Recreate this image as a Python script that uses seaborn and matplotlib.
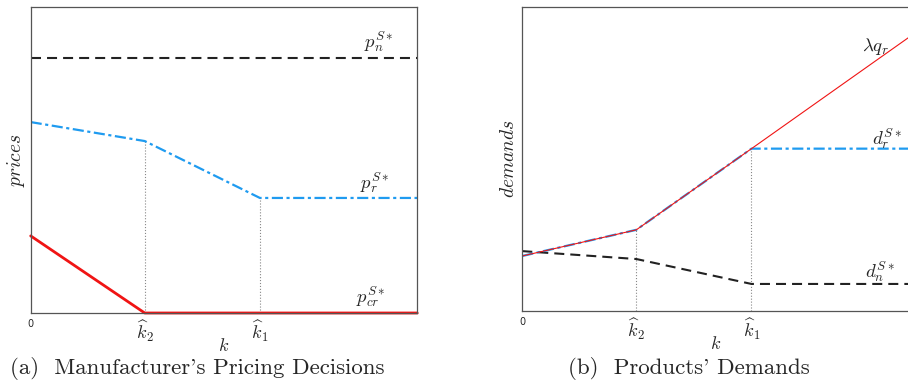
"""Two-panel sketch: manufacturer's prices and product demands versus k."""

import matplotlib
matplotlib.use("Agg")
import seaborn as sns
from matplotlib import pyplot as plt

# threshold positions on the k axis (0..1)
K2 = 0.295
K1 = 0.593
k_points = [0.0, K2, K1, 1.0]
tick_labels = ["0", r"$\widehat{k}_2$", r"$\widehat{k}_1$"]

# panel (a): prices
p_n = [0.833, 0.833, 0.833, 0.833]
p_r = [0.624, 0.562, 0.376, 0.376]
p_cr = [0.252, 0.0, 0.0, 0.0]

# panel (b): demands
lam_qr = [0.181, 0.267, 0.534, 0.900]
d_r = [0.181, 0.267, 0.534, 0.534]
d_n = [0.197, 0.171, 0.089, 0.089]

BLUE = "#1f9bf0"
RED = "#f01414"
DASH = (0, (4.8, 2.9))
DASHDOT = (0, (5, 1.6, 1.4, 1.6))

sns.set_style("white")
plt.rcParams["mathtext.fontset"] = "cm"
plt.rcParams["font.family"] = ["DejaVu Sans"]

fig = plt.figure(figsize=(9.08, 3.81), dpi=100)
ax_a = fig.add_axes([0.0338, 0.1785, 0.4257, 0.803])
ax_b = fig.add_axes([0.5752, 0.1837, 0.4257, 0.798])


def style_axes(ax, ylabel):
    ax.set_xlim(0, 1)
    ax.set_ylim(0, 1)
    ax.set_xticks([0.0, K2, K1])
    ax.set_xticklabels(tick_labels)
    for lab in ax.get_xticklabels():
        lab.set_fontsize(13 if "k" in lab.get_text() else 7)
    ax.set_yticks([])
    ax.tick_params(axis="x", length=0, pad=4)
    ax.set_xlabel(r"$k$", fontsize=13, labelpad=-5)
    ax.set_ylabel(r"$\mathit{" + ylabel + "}$", fontsize=14, labelpad=3)
    for side, spine in ax.spines.items():
        spine.set_color("#555555")
        spine.set_linewidth(0.9)


# panel (a)
ax_a.vlines([K2, K1], 0, [p_r[1], p_r[2]], colors="#888888", linestyles=":", linewidth=0.8)
sns.lineplot(x=k_points, y=p_n, ax=ax_a, color="#222222", linewidth=1.5, linestyle=DASH)
sns.lineplot(x=k_points, y=p_r, ax=ax_a, color=BLUE, linewidth=1.6, linestyle=DASHDOT)
sns.lineplot(x=k_points, y=p_cr, ax=ax_a, color=RED, linewidth=2.0, clip_on=False)
style_axes(ax_a, "prices")
ax_a.text(0.90, 0.885, r"$p_n^{S*}$", fontsize=13.5, ha="center", va="center", transform=ax_a.transAxes)
ax_a.text(0.89, 0.425, r"$p_r^{S*}$", fontsize=13.5, ha="center", va="center", transform=ax_a.transAxes)
ax_a.text(0.88, 0.05, r"$p_{cr}^{S*}$", fontsize=13.5, ha="center", va="center", transform=ax_a.transAxes)

# panel (b)
ax_b.vlines([K2, K1], 0, [d_r[1], d_r[2]], colors="#888888", linestyles=":", linewidth=0.8)
sns.lineplot(x=k_points, y=d_n, ax=ax_b, color="#222222", linewidth=1.5, linestyle=DASH)
sns.lineplot(x=k_points, y=d_r, ax=ax_b, color=BLUE, linewidth=1.6, linestyle=DASHDOT)
sns.lineplot(x=k_points, y=lam_qr, ax=ax_b, color=RED, linewidth=0.8)
style_axes(ax_b, "demands")
ax_b.text(0.915, 0.87, r"$\lambda q_r$", fontsize=13.5, ha="center", va="center", transform=ax_b.transAxes)
ax_b.text(0.943, 0.566, r"$d_r^{S*}$", fontsize=13.5, ha="center", va="center", transform=ax_b.transAxes)
ax_b.text(0.925, 0.128, r"$d_n^{S*}$", fontsize=13.5, ha="center", va="center", transform=ax_b.transAxes)

# captions
fig.text(197 / 908, 0.033, "(a)  Manufacturer's Pricing Decisions", fontsize=16.5,
         family="cmr10", ha="center", va="center")
fig.text(689 / 908, 0.033, "(b)  Products' Demands", fontsize=16.5,
         family="cmr10", ha="center", va="center")

fig.savefig("out.png", dpi=100)
